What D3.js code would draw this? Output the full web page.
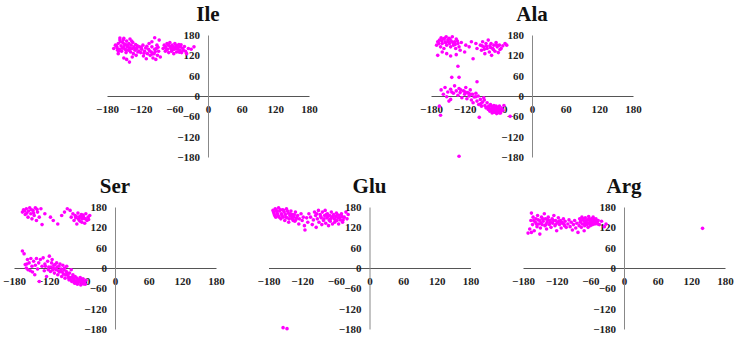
<!DOCTYPE html>
<html>
<head>
<meta charset="utf-8">
<script src="https://cdn.jsdelivr.net/npm/d3@7.9.0/dist/d3.min.js"></script>
<style>
  html, body { margin: 0; padding: 0; background: #fff; }
  svg { display: block; }
  .title { font: bold 21px "Liberation Serif", "Times New Roman", serif; fill: #111; }
  .tick text { font: bold 11px "Liberation Serif", "Times New Roman", serif; fill: #222; }
</style>
</head>
<body>
<svg id="chart" width="735" height="339"></svg>
<script>
// phi / psi pairs, in degrees
const ile = [
  [-165,150],[-162,142],[-160,155],[-158,138],[-157,165],[-155,148],[-154,132],[-152,158],[-150,145],[-150,170],
  [-148,138],[-147,152],[-146,128],[-145,162],[-144,145],[-142,135],[-141,155],[-140,142],[-139,168],[-138,130],
  [-137,150],[-135,140],[-134,158],[-133,125],[-132,145],[-130,135],[-129,152],[-128,120],[-127,140],[-125,130],
  [-150,112],[-145,108],[-140,100],[-135,115],[-160,125],[-168,140],
  [-122,145],[-120,128],[-118,138],[-116,150],[-115,118],[-113,132],[-111,142],[-110,110],[-108,125],[-106,138],
  [-105,155],[-103,120],[-101,130],[-100,145],[-98,112],[-96,125],[-95,138],[-93,108],[-91,150],[-90,120],
  [-88,132],[-87,165],[-85,115],[-95,172],[-100,160],[-92,140],
  [-80,140],[-78,150],[-76,132],[-75,145],[-73,155],[-72,138],[-70,128],[-69,148],[-68,158],[-66,140],
  [-65,132],[-64,150],[-62,145],[-61,125],[-60,138],[-59,155],[-58,142],[-56,130],[-55,148],[-54,138],
  [-52,152],[-50,135],[-49,145],[-47,128],[-45,140],[-40,132],[-35,140],[-30,138],[-25,145],[-38,125],
  [-163,147],[-159,133],[-156,160],[-153,141],[-149,153],[-146,136],[-143,149],[-139,137],[-136,162],[-131,141],
  [-126,148],[-123,133],[-119,143],[-114,126],[-109,147],[-104,133],[-99,124],[-94,131],[-89,144],[-77,143],
  [-74,136],[-71,151],[-67,145],[-63,137],[-57,149],[-53,143],[-51,129],[-48,151],[-44,135],[-42,146],
  [-157,171],[-151,166],[-161,135]
];

const ala = [
  [-170,150],[-168,160],[-165,165],[-163,145],[-162,172],[-160,155],[-158,168],[-157,140],[-155,160],[-153,175],
  [-152,150],[-150,165],[-148,170],[-147,155],[-145,145],[-144,162],[-142,175],[-140,150],[-138,160],[-136,140],
  [-135,168],[-132,155],[-130,145],[-128,135],[-126,158],
  [-166,155],[-161,163],[-156,170],[-154,157],[-149,160],[-146,168],[-141,158],[-137,152],[-133,162],
  [-168,120],[-160,130],[-152,125],[-145,118],[-135,122],[-120,130],[-118,150],[-112,145],[-108,160],[-105,110],
  [-100,155],[-98,140],
  [-92,150],[-90,135],[-88,160],[-86,145],[-84,125],[-82,155],[-80,140],[-78,165],[-76,130],[-75,148],
  [-73,155],[-72,120],[-70,140],[-68,150],[-66,132],[-64,158],[-62,145],[-60,128],[-58,150],[-55,140],
  [-52,148],[-48,155],[-45,150],[-89,148],[-81,147],[-74,143],[-69,137],[-63,150],[-57,137],[-85,138],
  [-132,88],[-143,55],[-130,55],[-98,42],
  [-162,18],[-158,5],[-155,25],[-152,-2],[-150,12],[-148,-15],[-145,20],[-140,8],[-138,30],[-135,15],
  [-132,2],[-130,22],[-128,10],[-125,-5],[-122,15],[-120,5],[-118,25],[-116,-8],[-115,10],[-112,0],
  [-110,18],[-108,-12],[-106,5],[-105,-20],[-103,-3],[-100,8],[-98,-15],[-96,0],[-95,-25],[-92,-10],
  [-90,-30],[-88,-18],[-86,-5],[-84,-28],[-82,-35],[-80,-20],[-78,-40],[-77,-30],[-75,-45],[-74,-25],
  [-72,-38],[-71,-50],[-70,-32],[-69,-42],[-68,-28],[-67,-48],[-66,-36],[-65,-44],[-64,-30],[-63,-52],
  [-62,-40],[-61,-35],[-60,-46],[-59,-38],[-58,-30],[-57,-44],[-56,-50],[-54,-36],[-52,-42],[-50,-28],
  [-79,-33],[-76,-38],[-73,-43],[-70,-47],[-68,-36],[-66,-41],[-64,-47],[-62,-33],[-60,-41],[-58,-50],
  [-55,-45],[-73,-30],[-85,-12],[-100,-2],[-113,8],[-127,18],[-143,12],[-109,5],[-119,12],[-91,-22],
  [-163,-57],[-94,-63],[-39,-60],[-130,-178],[-165,-30],[-145,-10]
];

const ser = [
  [-165,165],[-163,172],[-160,158],[-158,175],[-155,150],[-154,168],[-152,178],[-150,160],[-148,145],[-146,170],
  [-144,155],[-142,178],[-140,140],[-138,165],[-135,150],[-132,175],[-130,128],[-125,160],[-115,150],[-110,140],
  [-102,130],[-95,155],[-90,165],[-85,175],[-80,170],[-78,150],[-75,160],[-73,140],[-71,155],[-70,148],
  [-68,130],[-66,162],[-65,145],[-63,152],[-62,138],[-60,158],[-58,145],[-56,150],[-54,132],[-52,160],
  [-50,140],[-48,150],[-45,155],
  [-161,168],[-157,162],[-149,172],[-145,162],[-139,173],[-69,152],[-64,142],[-61,150],[-57,156],[-53,145],
  [-59,135],[-47,143],
  [-165,50],[-162,42],[-160,10],[-158,0],[-156,25],[-155,-5],[-153,15],[-150,28],[-148,5],[-147,-12],
  [-145,20],[-143,-20],[-142,8],[-140,28],[-138,-3],[-136,15],[-135,-40],[-133,25],[-130,5],[-128,30],
  [-126,-8],[-125,12],[-122,-25],[-120,20],[-118,3],[-117,35],[-115,-10],[-113,15],[-112,25],[-110,0],
  [-108,-15],[-107,10],[-105,-5],[-104,15],[-102,-20],[-100,5],[-99,-12],[-98,12],[-96,-3],[-95,-25],
  [-93,8],[-92,-18],[-90,0],[-89,-30],[-87,-10],[-86,5],[-84,-22],[-82,-35],[-81,-15],[-80,-28],
  [-78,-5],[-77,-40],[-75,-20],[-74,-32],[-72,-45],[-71,-25],[-70,-38],[-68,-30],[-67,-48],[-65,-35],
  [-64,-42],[-62,-28],[-61,-50],[-60,-38],[-58,-45],[-57,-32],[-55,-40],[-53,-48],[-52,-36],
  [-109,8],[-106,-2],[-103,3],[-101,-8],[-97,-8],[-94,-12],[-91,-5],[-88,-20],[-85,-15],[-83,-28],
  [-79,-35],[-76,-27],[-73,-38],[-69,-44],[-66,-40],[-63,-35],[-59,-42],[-56,-47],[-54,-44],[-124,5],
  [-119,-5],[-114,3],[-111,-6],[-157,12],[-151,-8]
];

const glu = [
  [-172,170],[-170,160],[-168,175],[-167,150],[-165,165],[-163,155],[-162,178],[-160,168],[-158,145],[-157,160],
  [-155,172],[-154,150],[-152,165],[-151,140],[-150,158],[-148,175],[-147,148],[-145,162],[-144,135],[-142,155],
  [-140,168],[-138,145],[-137,158],[-135,150],[-133,138],[-132,165],[-130,148],[-128,155],[-126,130],[-125,145],
  [-122,160],[-120,140],[-118,150],[-116,125],[-115,112],[-112,148],[-110,135],[-108,160],[-105,150],[-102,128],
  [-100,142],[-98,165],[-96,155],[-95,120],[-93,145],[-91,170],[-90,135],[-88,158],[-86,148],[-85,128],
  [-84,165],[-82,140],[-80,155],[-79,170],[-78,132],[-76,148],[-75,160],[-73,125],[-72,142],[-71,155],
  [-70,138],[-68,165],[-67,150],[-66,130],[-64,158],[-63,145],[-62,135],[-60,152],[-59,162],[-58,140],
  [-56,148],[-55,130],[-54,155],[-52,142],[-50,160],[-48,135],[-45,150],[-42,165],[-40,145],[-38,158],
  [-171,165],[-169,155],[-166,170],[-164,160],[-161,150],[-159,172],[-156,155],[-153,170],[-149,150],[-146,168],
  [-143,145],[-141,160],[-139,152],[-136,140],[-134,157],[-131,143],[-77,158],[-74,152],[-69,145],[-65,153],
  [-61,143],[-57,157],[-53,148],[-49,152],[-47,142],[-81,145],[-87,152],[-94,160],
  [-154,-176],[-147,-179]
];

const arg = [
  [-171,103],[-168,115],[-166,140],[-165,162],[-163,128],[-162,150],[-160,110],[-158,135],[-157,145],[-155,122],
  [-154,155],[-152,130],[-150,140],[-149,118],[-147,150],[-146,128],[-144,138],[-142,160],[-141,125],[-140,145],
  [-138,115],[-137,135],[-135,150],[-133,128],[-132,140],[-130,120],[-128,145],[-127,132],[-125,155],[-123,125],
  [-122,140],[-120,110],[-118,135],[-117,148],[-115,128],[-113,140],[-112,118],[-110,132],[-108,145],[-106,125],
  [-105,138],[-103,120],[-100,130],[-98,142],[-96,122],[-94,135],[-92,112],[-90,128],[-88,140],[-86,118],
  [-84,132],[-82,105],[-80,125],[-79,145],[-78,135],[-76,120],[-75,150],[-74,130],[-72,140],[-71,110],
  [-70,125],[-69,148],[-68,135],[-66,128],[-65,142],[-64,120],[-63,152],[-62,132],[-61,140],[-60,125],
  [-58,145],[-57,135],[-56,128],[-55,150],[-54,138],[-52,130],[-50,145],[-48,135],[-46,140],[-44,128],
  [-40,138],[-35,122],[-32,130],[-165,105],[-150,100],
  [-161,140],[-156,130],[-153,142],[-148,133],[-145,145],[-139,128],[-136,142],[-131,135],[-126,140],[-121,130],
  [-116,138],[-111,135],[-107,130],[-77,140],[-73,145],[-67,140],[-64,133],[-59,138],[-56,145],[-53,142],
  [-51,137],[-49,140],[-47,130],[-62,145],[-70,132],[-58,130],
  [140,117]
];

const tickValues = [-180, -120, -60, 0, 60, 120, 180];

const panels = [
  { name: "Ile", data: ile, cx: 208, cy: 96 },
  { name: "Ala", data: ala, cx: 532, cy: 96 },
  { name: "Ser", data: ser, cx: 115, cy: 268 },
  { name: "Glu", data: glu, cx: 369.5, cy: 268 },
  { name: "Arg", data: arg, cx: 624, cy: 268 }
];

const svg = d3.select("#chart");
const halfW = 101, halfH = 61;

panels.forEach(p => {
  const x = d3.scaleLinear().domain([-180, 180]).range([p.cx - halfW, p.cx + halfW]);
  const y = d3.scaleLinear().domain([-180, 180]).range([p.cy + halfH, p.cy - halfH]);
  const g = svg.append("g");

  g.append("text")
    .attr("class", "title")
    .attr("x", p.cx)
    .attr("y", p.cy - 75)
    .attr("text-anchor", "middle")
    .text(p.name);

  const xAxis = g.append("g")
    .attr("transform", `translate(0,${y(0)})`)
    .call(d3.axisBottom(x).tickValues(tickValues).tickSize(0).tickPadding(9).tickFormat(d3.format("d")));
  xAxis.select(".domain").attr("stroke", "#555");

  const yAxis = g.append("g")
    .attr("transform", `translate(${x(0)},0)`)
    .call(d3.axisLeft(y).tickValues(tickValues).tickSize(0).tickPadding(8).tickFormat(d3.format("d")));
  yAxis.select(".domain").attr("stroke", "#888");

  g.append("g")
    .selectAll("circle")
    .data(p.data)
    .join("circle")
    .attr("cx", d => x(d[0]))
    .attr("cy", d => y(d[1]))
    .attr("r", 1.8)
    .attr("fill", "#ff00ff");
});
</script>
</body>
</html>
